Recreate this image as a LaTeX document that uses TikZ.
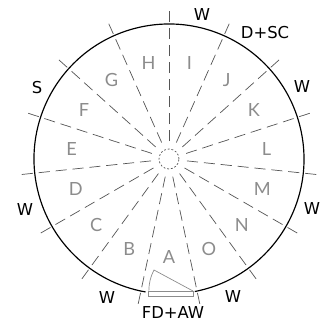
\documentclass[tikz,border=0pt]{standalone}
\usepackage{fontspec}
\setmainfont{Lato}
\newfontfamily\handfont{DejaVu Sans}
\definecolor{raygray}{HTML}{555555}
\definecolor{lettergray}{HTML}{8C8C8C}
\begin{document}
\begin{tikzpicture}[x=0.03cm, y=0.03cm,
  ray/.style={raygray, line width=0.6pt, dash pattern=on 9.5pt off 5pt},
  sector/.style={lettergray, font=\fontsize{15.5}{15.5}\selectfont},
  wall/.style={font=\handfont\fontsize{14}{14}\selectfont}]
\useasboundingbox (-169,-167) rectangle (152,159);

% outer wall, open at the front door
\draw[line width=1pt] (-79:135) arc (-79:260:135);

% sector rays
\foreach \a in {90,66,...,-246}
  \draw[ray] (\a:18) -- (\a:151);
\draw[raygray, line width=0.6pt, dash pattern=on 1.6pt off 1.6pt] (0,0) circle (10);

% sector letters
\foreach \l [count=\i from 0] in {A,B,C,D,E,F,G,H,I,J,K,L,M,N,O}
  \node[sector] (s\l) at ({-90-24*\i}:98) {\l};

% door
\draw[lettergray, line width=0.6pt] (-21,-137) rectangle (24,-132);
\draw[lettergray, line width=0.6pt] (24,-132) -- (-15,-111) arc (152:180:44);

% wall labels
\node[wall] (w1) at (33,144) {W};
\node[wall] (dsc) at (96,126) {D+SC};
\node[wall] (w2) at (133,72) {W};
\node[wall] (w3) at (143,-50) {W};
\node[wall] (w4) at (64,-138) {W};
\node[wall] (fdaw) at (4,-154) {FD+AW};
\node[wall] (w5) at (-62,-139) {W};
\node[wall] (w6) at (-144,-51) {W};
\node[wall] (s) at (-132,71) {S};
\end{tikzpicture}
\end{document}
